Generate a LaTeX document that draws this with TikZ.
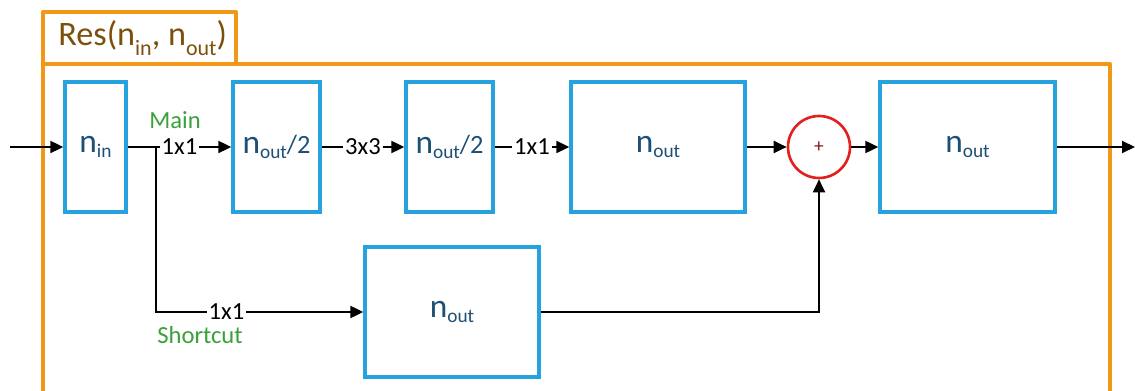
\documentclass[tikz,border=0pt]{standalone}
\usepackage{fontspec}
\setmainfont{Carlito}
\usetikzlibrary{arrows.meta}

\definecolor{frameorange}{RGB}{241,152,22}
\definecolor{boxblue}{RGB}{38,162,222}
\definecolor{labelblue}{RGB}{28,80,116}
\definecolor{titlebrown}{RGB}{124,80,12}
\definecolor{pathgreen}{RGB}{58,160,58}
\definecolor{sumred}{RGB}{226,32,28}
\definecolor{plusred}{RGB}{130,22,22}

% layer label: big n with a small subscript, optional tail
\newcommand{\layer}[2]{{\fontsize{19}{19}\selectfont n}\raisebox{-.3em}{\fontsize{11}{11}\selectfont #1}{\fontsize{15}{15}\selectfont #2}}

\begin{document}
\begin{tikzpicture}[x=.02cm, y=-.02cm,
	frame/.style={draw=frameorange, line width=2.3pt, line join=round},
	blk/.style={draw=boxblue, line width=1.9pt, fill=white, text=labelblue, minimum height=2.6cm},
	sum/.style={circle, draw=sumred, line width=1.5pt, minimum size=1.24cm, inner sep=0pt},
	conn/.style={line width=1.1pt, -{Triangle[length=.26cm, width=.24cm]}},
	op/.style={fill=white, inner sep=1pt, font=\fontsize{14}{14}\selectfont},
	path/.style={text=pathgreen, font=\fontsize{14}{14}\selectfont}]
	\useasboundingbox (0,0) rectangle (1135,391);

	% outer block with its title tab
	\draw[frame] (43,400) |- (1110,64) -- (1110,400);
	\draw[frame] (43,64) |- (236,12) -- (236,64);
	\node[anchor=west, inner sep=0pt, text=titlebrown, font=\fontsize{19.5}{19.5}\selectfont] (title) at (58,38)
		{Res(n\raisebox{-.3em}{\fontsize{12.5}{12.5}\selectfont in}, n\raisebox{-.3em}{\fontsize{12.5}{12.5}\selectfont out})};

	% layers
	\node[blk, minimum width=1.22cm] (nin)   at (95.5,147)  {\layer{in}{}};
	\node[blk, minimum width=1.74cm] (half1) at (276.5,147) {\layer{out}{/2}};
	\node[blk, minimum width=1.74cm] (half2) at (449.5,147) {\layer{out}{/2}};
	\node[blk, minimum width=3.48cm] (full)  at (658,147)   {\layer{out}{}};
	\node[sum] (add) at (819,147) {\textcolor{plusred}{\fontsize{11}{11}\selectfont +}};
	\node[blk, minimum width=3.5cm]  (nout)  at (967.5,147) {\layer{out}{}};
	\node[blk, minimum width=3.48cm] (short) at (452,312)   {\layer{out}{}};

	\coordinate (in)  at (10,147);
	\coordinate (br)  at (156,147);
	\coordinate (out) at (1135,147);

	% main path
	\draw[conn] (in) -- (nin);
	\draw[conn] (nin) -- node[op] (k1) {1x1} (half1);
	\draw[conn] (half1) -- node[op] (k2) {3x3} (half2);
	\draw[conn] (half2) -- node[op] (k3) {1x1} (full);
	\draw[conn] (full) -- (add);
	\draw[conn] (add) -- (nout);
	\draw[conn] (nout) -- (out);

	% shortcut path
	\draw[conn] (br) |- node[op, pos=.67] (k4) {1x1} (short);
	\draw[conn] (short) -| (add);

	\node[path] (main) at (175,120) {Main};
	\node[path] (cut)  at (200,335) {Shortcut};
\end{tikzpicture}
\end{document}
